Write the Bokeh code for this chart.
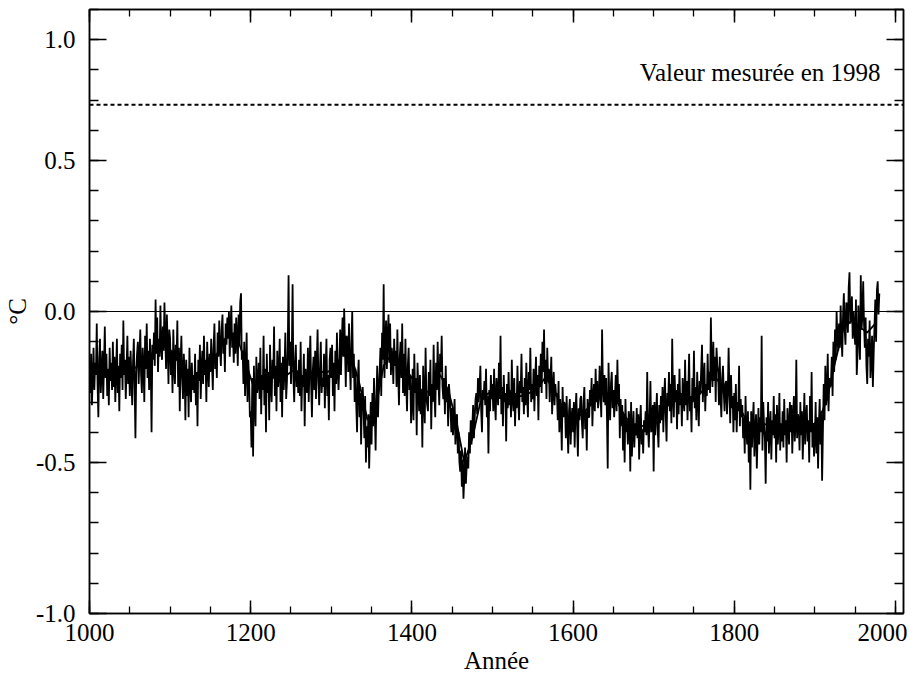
import numpy as np
from bokeh.plotting import figure
from bokeh.models import Span, Label, FixedTicker, LinearAxis
from bokeh.embed import file_html
from bokeh.resources import INLINE

# ---- Data (annual temperature anomaly, hundredths of a degree C) ----
anom_1000s = [-19, -27, -14, -31, -22, -12, -26, -17, -21, -4,
              -24, -35, -16, -9, -27, -20, -13, -29, -18, -5,
              -22, -14, -28, -19, -31, -12, -23, -17, -26, -10,
              -25, -15, -30, -20, -9, -27, -18, -33, -14, -22,
              -11, -26, -3, -21, -16, -29, -19, -8, -24, -15,
              -28, -13, -22, -31, -17, -9, -25, -42, -20, -14,
              -10, -24, -15, -6, -21, -27, -12, -18, -30, -8,
              -19, -4, -22, -13, -26, -9, -17, -40, -11, -16,
              -7, -18, 4, -14, -2, -20, -9, -15, 2, -12,
              -16, -5, -13, 3, -8, -19, -1, -11, -24, -6]
anom_1100s = [-9, -21, -13, -27, -6, -18, -24, -11, -16, -3,
              -25, -12, -33, -17, -8, -22, -29, -14, -20, -36,
              -16, -28, -19, -35, -12, -24, -30, -17, -26, -21,
              -27, -14, -31, -20, -38, -16, -23, -11, -29, -19,
              -13, -24, -8, -21, -16, -30, -10, -19, -25, -14,
              -20, -9, -17, -26, -12, -4, -19, -14, -22, -7,
              -15, -3, -12, -18, -6, -1, -14, -9, -20, -4,
              -11, -2, -9, 0, -15, -5, 2, -12, -7, -17,
              -4, -14, -2, -8, -18, -1, -11, 3, 6, -16,
              -13, -24, -10, -28, -19, -7, -30, -16, -22, -35]
anom_1200s = [-33, -45, -22, -48, -18, -30, -38, -15, -27, -24,
              -17, -29, -12, -34, -21, -26, -8, -31, -19, -40,
              -14, -27, -20, -36, -11, -24, -30, -16, -22, -5,
              -28, -18, -33, -13, -25, -21, -9, -30, -17, -35,
              -15, -26, -19, -7, -29, -23, -12, 12, -18, -10,
              -24, -14, 9, -22, -30, -17, -11, -25, -20, -27,
              -16, -28, -10, -33, -21, -25, -14, -38, -19, -23,
              -27, -12, -30, -18, -8, -24, -35, -20, -15, -26,
              -13, -29, -17, -6, -23, -31, -19, -10, -27, -22,
              -25, -14, -32, -19, -9, -28, -21, -36, -16, -12]
anom_1300s = [-22, -11, -28, -17, -33, -13, -24, -7, -20, -26,
              -18, -6, -21, -10, -2, -15, 1, -12, -25, -8,
              -9, -20, -4, -17, -26, -11, 0, -22, -14, -30,
              -19, -31, -40, -22, -16, -35, -27, -44, -30, -25,
              -32, -42, -28, -50, -38, -45, -34, -52, -40, -30,
              -44, -27, -38, -22, -33, -46, -29, -18, -35, -25,
              -20, -12, -28, -7, -16, 9, -22, -10, -3, -19,
              -8, -1, -17, -4, -21, -12, -15, -24, -9, -18,
              -13, -25, -6, -20, -31, -15, -10, -22, -4, -27,
              -14, -28, -9, -24, -33, -18, -12, -26, -21, -37]
anom_1400s = [-30, -19, -36, -14, -27, -22, -41, -17, -25, -33,
              -21, -34, -26, -45, -18, -29, -37, -12, -28, -31,
              -33, -20, -28, -16, -39, -24, -30, -11, -27, -35,
              -17, -26, -10, -23, -31, -14, -20, -8, -25, -29,
              -22, -34, -18, -30, -26, -38, -24, -28, -33, -40,
              -32, -41, -35, -29, -44, -38, -34, -47, -40, -50,
              -53, -46, -58, -49, -62, -55, -45, -57, -51, -48,
              -52, -40, -47, -36, -44, -38, -31, -42, -35, -29,
              -27, -34, -22, -30, -25, -18, -33, -40, -26, -29,
              -23, -31, -19, -35, -28, -47, -26, -33, -21, -29]
anom_1500s = [-24, -33, -19, -30, -36, -22, -27, -31, -17, -29,
              -8, -34, -25, -38, -21, -30, -27, -43, -24, -32,
              -20, -31, -26, -35, -16, -29, -33, -22, -38, -27,
              -32, -18, -29, -36, -23, -27, -14, -30, -25, -34,
              -22, -31, -17, -28, -35, -20, -26, -12, -30, -24,
              -29, -19, -33, -23, -15, -28, -21, -36, -18, -25,
              -14, -27, -10, -20, -6, -24, -16, -29, -12, -23,
              -19, -30, -22, -15, -34, -26, -20, -31, -24, -28,
              -27, -36, -23, -40, -29, -33, -46, -25, -35, -30,
              -31, -42, -28, -38, -47, -33, -29, -44, -36, -32]
anom_1600s = [-40, -30, -45, -33, -27, -38, -48, -32, -36, -29,
              -28, -37, -42, -30, -25, -39, -33, -46, -29, -35,
              -35, -26, -31, -22, -38, -28, -24, -33, -19, -30,
              -23, -32, -29, -18, -27, -35, -6, -25, -30, -21,
              -31, -22, -34, -52, -17, -29, -36, -24, -20, -32,
              -26, -35, -28, -21, -33, -16, -30, -24, -42, -29,
              -38, -31, -46, -34, -50, -29, -40, -36, -44, -33,
              -35, -53, -30, -48, -39, -33, -45, -37, -41, -32,
              -42, -34, -49, -37, -31, -44, -39, -47, -36, -40,
              -33, -41, -20, -38, -45, -35, -23, -40, -36, -31]
anom_1700s = [-53, -30, -41, -34, -27, -39, -45, -31, -37, -28,
              -36, -25, -40, -29, -22, -34, -43, -27, -31, -20,
              -33, -24, -37, -9, -28, -35, -21, -30, -26, -39,
              -24, -34, -19, -31, -27, -38, -22, -29, -33, -16,
              -31, -23, -36, -26, -14, -33, -28, -40, -22, -30,
              -13, -32, -25, -36, -20, -29, -38, -23, -27, -19,
              -11, -30, -22, -17, -33, -24, -28, -14, -26, -20,
              -27, -2, -19, -25, -10, -23, -15, -30, -12, -18,
              -20, -31, -15, -28, -35, -22, -18, -27, -33, -24,
              -23, -34, -27, -12, -26, -37, -21, -32, -28, -40]
anom_1800s = [-27, -36, -24, -40, -30, -33, -18, -38, -29, -35,
              -31, -42, -35, -47, -28, -39, -44, -33, -50, -37,
              -59, -33, -45, -36, -30, -48, -40, -34, -52, -41,
              -32, -44, -35, -40, -8, -46, -30, -38, -42, -57,
              -35, -43, -30, -47, -39, -33, -49, -36, -41, -28,
              -42, -34, -50, -31, -44, -39, -27, -46, -37, -43,
              -33, -45, -29, -41, -36, -50, -32, -38, -44, -30,
              -40, -31, -47, -35, -28, -43, -38, -16, -42, -34,
              -36, -46, -30, -41, -33, -49, -38, -27, -44, -35,
              -31, -43, -36, -50, -28, -40, -20, -45, -37, -48]
anom_1900s = [-42, -30, -47, -35, -52, -38, -29, -44, -33, -56,
              -40, -24, -36, -18, -31, -27, -14, -33, -22, -25,
              -24, -15, -28, -10, -20, -6, -16, 0, -9, -13,
              -4, -12, 2, -8, -15, -1, 6, -6, -11, 3,
              2, -7, 8, 13, -4, -1, 5, -9, 0, -6,
              -11, 4, -21, -14, 2, -8, -16, 12, -6, -1,
              10, -4, -12, -2, -18, -24, -9, -15, -3, -22,
              -16, -8, -25, -14, -5, 4, -10, 7, 10, -1,
              6]

# smoothed (low-pass) curve, decade centres 1005..1975, hundredths of deg C
smooth_years = list(range(1005, 1985, 10))
smooth_vals = [-20, -19, -20, -21, -19, -19, -17, -15, -11, -10,
               -15, -18, -22, -22, -18, -16, -10, -7, -10, -18,
               -26, -23, -22, -22, -21, -19, -22, -21, -20, -20,
               -19, -13, -15, -24, -36, -32, -18, -14, -17, -20,
               -24, -27, -26, -21, -26, -36, -50, -42, -30, -27,
               -28, -29, -28, -28, -27, -26, -22, -25, -31, -35,
               -35, -33, -30, -27, -27, -30, -35, -38, -38, -37,
               -36, -32, -29, -29, -29, -28, -25, -21, -25, -28,
               -31, -36, -38, -37, -38, -38, -37, -37, -37, -38,
               -36, -29, -17, -6, -3, -5, -7, -4]

measured_1998 = 0.685
measured_label = "Valeur mesurée en 1998"
x_ticks = [1000, 1200, 1400, 1600, 1800, 2000]
y_ticks = [-1.0, -0.5, 0.0, 0.5, 0.9]
y_tick_labels = ["-1.0", "-0.5", "0.0", "0.5", "1.0"]

annual = np.array(anom_1000s + anom_1100s + anom_1200s + anom_1300s + anom_1400s +
                  anom_1500s + anom_1600s + anom_1700s + anom_1800s + anom_1900s) / 100.0
years = np.arange(1000, 1000 + len(annual))
smooth = np.array(smooth_vals) / 100.0

FONT = "Liberation Serif"

p = figure(frame_width=814, frame_height=604, x_range=(1000, 2010), y_range=(-1.0, 1.0),
           output_backend="svg", toolbar_location=None,
           min_border_left=86, min_border_top=9, min_border_right=4, min_border_bottom=0,
           x_axis_label="Année", y_axis_label="°C")
p.grid.visible = False
p.outline_line_color = "black"
p.outline_line_width = 1.5
p.background_fill_color = "white"
p.border_fill_color = "white"

minor_x = list(range(1000, 2011, 50))
minor_y = [round(-1.0 + 0.1 * i, 1) for i in range(21)]

p.add_layout(LinearAxis(), "above")
p.add_layout(LinearAxis(), "right")

for ax in p.xaxis:
    ax.ticker = FixedTicker(ticks=x_ticks, minor_ticks=minor_x)
    ax.major_tick_in = 13
    ax.major_tick_out = 0
    ax.minor_tick_in = 7
    ax.minor_tick_out = 0
for ax in p.yaxis:
    ax.ticker = FixedTicker(ticks=y_ticks, minor_ticks=minor_y)
    ax.major_label_overrides = {t: l for t, l in zip(y_ticks, y_tick_labels)}
    ax.major_tick_in = 17
    ax.major_tick_out = 0
    ax.minor_tick_in = 9
    ax.minor_tick_out = 0

for ax in p.xaxis + p.yaxis:
    ax.axis_line_color = "black"
    ax.axis_line_width = 1.5
    ax.major_tick_line_color = "black"
    ax.major_tick_line_width = 1.5
    ax.minor_tick_line_color = "black"
    ax.minor_tick_line_width = 1.3
    ax.major_label_text_font = FONT
    ax.major_label_text_font_size = "25px"
    ax.major_label_text_color = "black"
    ax.axis_label_text_font = FONT
    ax.axis_label_text_font_size = "25px"
    ax.axis_label_text_font_style = "normal"
    ax.axis_label_text_color = "black"

# mirrored axes: ticks only, no labels
p.above[0].major_label_overrides = {t: "" for t in x_ticks}
p.right[0].major_label_overrides = {t: "" for t in y_ticks}
for ax in (p.above[0], p.right[0]):
    ax.major_label_text_font_size = "0px"
    ax.major_label_standoff = 0
    ax.axis_label = None

p.below[0].major_label_standoff = 10
p.below[0].axis_label_standoff = 3
p.left[0].major_label_standoff = 14
p.left[0].axis_label_standoff = 2

p.add_layout(Span(location=0.0, dimension="width", line_color="black", line_width=1))
p.add_layout(Span(location=measured_1998, dimension="width", line_color="black",
                  line_width=2, line_dash="4 3"))

p.line(years, annual, line_color="black", line_width=1.8)
p.line(smooth_years, smooth, line_color="black", line_width=1.8)

p.add_layout(Label(x=1981.5, y=0.792, text=measured_label, text_align="right",
                   text_baseline="alphabetic", text_font=FONT, text_font_size="25px",
                   text_color="black"))

open("out.html", "w").write(file_html(p, INLINE))
